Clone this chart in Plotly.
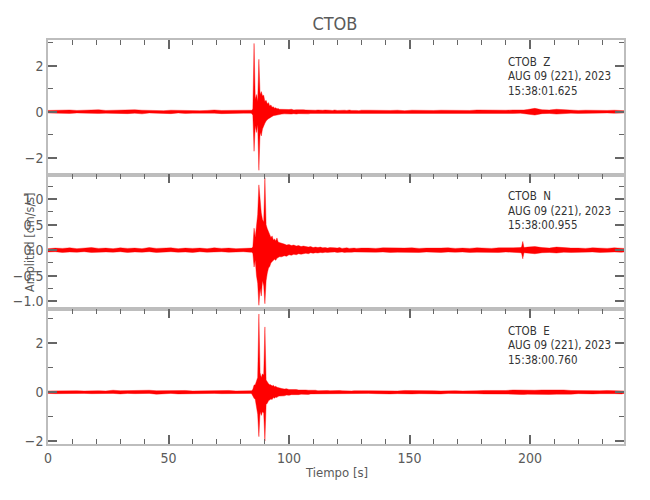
import plotly.graph_objects as go
from plotly.subplots import make_subplots

# envelope knots (s): coarse in the noise, fine around the event
TIME_EVENT = [84.5, 85.0, 85.5, 86.0, 86.5, 87.0, 87.5, 88.0,
              88.5, 89.0, 89.5, 90.0, 90.5, 91.0, 91.5, 92.0,
              92.5, 93.0, 93.5, 94.0, 94.5, 95.0, 95.5, 96.0]
TIME = (list(range(0, 85, 3)) + TIME_EVENT + list(range(97, 131))
        + list(range(133, 197, 3)) + [196.5, 197.0, 197.5]
        + list(range(199, 239, 3)) + [239])

Z_UP = [
    0.06, 0.07, 0.05, 0.08, 0.06, 0.07, 0.05, 0.09, 0.06, 0.07,
    0.08, 0.06, 0.09, 0.07, 0.06, 0.08, 0.05, 0.07, 0.06, 0.08,
    0.07, 0.05, 0.06, 0.08, 0.06, 0.07, 0.05, 0.06, 0.07,
    0.07, 0.12, 2.98, 0.55, 0.75, 0.45, 2.29, 0.75,
    0.88, 0.7, 0.72, 0.45, 0.5, 0.35, 0.4, 0.25,
    0.3, 0.2, 0.22, 0.16, 0.18, 0.13, 0.14, 0.11,
    0.1, 0.12, 0.09, 0.1, 0.11, 0.08, 0.09, 0.1, 0.08, 0.09,
    0.08, 0.07, 0.09, 0.08, 0.07, 0.08, 0.06, 0.07, 0.08, 0.06,
    0.07, 0.06, 0.08, 0.06, 0.07, 0.05, 0.07, 0.06, 0.08, 0.06,
    0.07, 0.06, 0.05, 0.07,
    0.07, 0.06, 0.08, 0.06, 0.07, 0.05, 0.07, 0.06, 0.08, 0.06,
    0.07, 0.06, 0.08, 0.07, 0.06, 0.08, 0.07, 0.06, 0.08, 0.07,
    0.08, 0.07, 0.08, 0.07, 0.08, 0.1, 0.15, 0.09, 0.08, 0.11,
    0.09, 0.07, 0.06, 0.07, 0.06, 0.07, 0.06, 0.07, 0.06, 0.05,
]
Z_LO = [
    -0.05, -0.07, -0.06, -0.07, -0.05, -0.08, -0.06, -0.07, -0.06, -0.05,
    -0.07, -0.08, -0.06, -0.09, -0.05, -0.07, -0.06, -0.08, -0.05, -0.07,
    -0.06, -0.07, -0.05, -0.06, -0.08, -0.05, -0.07, -0.06, -0.06,
    -0.07, -0.15, -1.72, -0.6, -0.9, -0.55, -2.55, -0.9,
    -1.05, -0.75, -0.6, -0.5, -0.4, -0.35, -0.3, -0.28,
    -0.22, -0.2, -0.17, -0.16, -0.14, -0.13, -0.12, -0.11,
    -0.1, -0.09, -0.11, -0.09, -0.1, -0.08, -0.1, -0.08, -0.09, -0.07,
    -0.08, -0.09, -0.07, -0.08, -0.06, -0.08, -0.07, -0.06, -0.07, -0.08,
    -0.06, -0.07, -0.06, -0.08, -0.05, -0.07, -0.06, -0.07, -0.06, -0.05,
    -0.07, -0.06, -0.07, -0.05,
    -0.06, -0.07, -0.05, -0.07, -0.06, -0.08, -0.06, -0.07, -0.05, -0.07,
    -0.06, -0.08, -0.06, -0.07, -0.05, -0.07, -0.06, -0.08, -0.06, -0.07,
    -0.07, -0.06, -0.07, -0.08, -0.07, -0.09, -0.14, -0.08, -0.07, -0.1,
    -0.08, -0.06, -0.07, -0.06, -0.07, -0.06, -0.05, -0.06, -0.06, -0.05,
]

N_UP = [
    0.03, 0.04, 0.035, 0.045, 0.03, 0.04, 0.05, 0.035, 0.04, 0.03,
    0.045, 0.035, 0.04, 0.03, 0.05, 0.035, 0.04, 0.045, 0.03, 0.04,
    0.035, 0.04, 0.03, 0.045, 0.035, 0.04, 0.03, 0.035, 0.04,
    0.04, 0.06, 0.43, 0.25, 0.45, 0.7, 1.28, 0.9,
    0.73, 0.6, 0.55, 1.42, 0.5, 0.42, 0.35, 0.3,
    0.25, 0.28, 0.2, 0.22, 0.18, 0.24, 0.16, 0.15,
    0.14, 0.12, 0.1, 0.11, 0.09, 0.1, 0.08, 0.09, 0.07, 0.08,
    0.07, 0.06, 0.07, 0.05, 0.06, 0.05, 0.06, 0.045, 0.05, 0.04,
    0.05, 0.04, 0.045, 0.04, 0.05, 0.035, 0.04, 0.045, 0.035, 0.04,
    0.04, 0.035, 0.045, 0.04,
    0.04, 0.035, 0.045, 0.04, 0.035, 0.04, 0.045, 0.035, 0.04, 0.035,
    0.04, 0.045, 0.035, 0.04, 0.035, 0.045, 0.04, 0.035, 0.045, 0.04,
    0.045, 0.05, 0.06, 0.17, 0.05, 0.06, 0.07, 0.05, 0.04, 0.06,
    0.045, 0.04, 0.04, 0.035, 0.045, 0.04, 0.035, 0.045, 0.04, 0.035,
]
N_LO = [
    -0.035, -0.03, -0.045, -0.035, -0.04, -0.03, -0.045, -0.04, -0.035, -0.04,
    -0.03, -0.045, -0.035, -0.04, -0.03, -0.045, -0.035, -0.03, -0.04, -0.035,
    -0.045, -0.03, -0.04, -0.035, -0.03, -0.04, -0.035, -0.03, -0.04,
    -0.04, -0.06, -0.33, -0.2, -0.5, -0.65, -1.08, -0.75,
    -0.9, -0.6, -0.7, -1.05, -0.6, -0.45, -0.35, -0.32,
    -0.25, -0.22, -0.2, -0.18, -0.2, -0.16, -0.15, -0.13,
    -0.13, -0.11, -0.12, -0.09, -0.1, -0.08, -0.09, -0.07, -0.08, -0.07,
    -0.06, -0.07, -0.05, -0.06, -0.05, -0.055, -0.045, -0.05, -0.04, -0.045,
    -0.04, -0.045, -0.035, -0.045, -0.04, -0.035, -0.045, -0.04, -0.035, -0.04,
    -0.035, -0.04, -0.035, -0.04,
    -0.035, -0.04, -0.035, -0.045, -0.04, -0.035, -0.04, -0.045, -0.035, -0.04,
    -0.045, -0.035, -0.04, -0.035, -0.045, -0.04, -0.035, -0.04, -0.045, -0.035,
    -0.04, -0.05, -0.06, -0.17, -0.05, -0.06, -0.07, -0.05, -0.045, -0.055,
    -0.04, -0.045, -0.035, -0.04, -0.035, -0.045, -0.04, -0.035, -0.04, -0.035,
]

E_UP = [
    0.05, 0.06, 0.05, 0.07, 0.06, 0.05, 0.07, 0.06, 0.05, 0.08,
    0.06, 0.07, 0.05, 0.06, 0.08, 0.06, 0.07, 0.05, 0.06, 0.07,
    0.05, 0.06, 0.07, 0.05, 0.06, 0.07, 0.05, 0.06, 0.06,
    0.06, 0.12, 0.29, 0.3, 0.5, 0.6, 3.2, 0.8,
    0.6, 0.75, 0.7, 2.67, 0.5, 0.4, 0.35, 0.3,
    0.3, 0.25, 0.28, 0.22, 0.24, 0.2, 0.18, 0.16,
    0.15, 0.13, 0.14, 0.11, 0.12, 0.1, 0.11, 0.09, 0.1, 0.08,
    0.09, 0.08, 0.09, 0.07, 0.08, 0.06, 0.07, 0.08, 0.06, 0.07,
    0.06, 0.07, 0.05, 0.06, 0.07, 0.06, 0.05, 0.07, 0.06, 0.05,
    0.06, 0.07, 0.05, 0.06,
    0.06, 0.05, 0.07, 0.06, 0.05, 0.07, 0.06, 0.05, 0.07, 0.06,
    0.05, 0.07, 0.06, 0.05, 0.07, 0.06, 0.07, 0.06, 0.08, 0.07,
    0.09, 0.08, 0.1, 0.08, 0.09, 0.1, 0.08, 0.09, 0.1, 0.08,
    0.09, 0.07, 0.06, 0.07, 0.05, 0.06, 0.07, 0.05, 0.06, 0.05,
]
E_LO = [
    -0.05, -0.06, -0.07, -0.05, -0.06, -0.05, -0.06, -0.07, -0.06, -0.05,
    -0.07, -0.05, -0.06, -0.07, -0.05, -0.08, -0.06, -0.05, -0.07, -0.06,
    -0.05, -0.07, -0.06, -0.05, -0.06, -0.05, -0.07, -0.06, -0.05,
    -0.06, -0.15, -0.25, -0.3, -0.6, -0.9, -1.82, -0.8,
    -0.95, -0.8, -0.85, -2.0, -0.5, -0.45, -0.35, -0.3,
    -0.28, -0.3, -0.22, -0.25, -0.2, -0.22, -0.17, -0.16,
    -0.14, -0.15, -0.12, -0.13, -0.1, -0.11, -0.09, -0.1, -0.08, -0.09,
    -0.08, -0.09, -0.07, -0.08, -0.06, -0.08, -0.07, -0.06, -0.07, -0.06,
    -0.07, -0.05, -0.06, -0.07, -0.05, -0.06, -0.07, -0.05, -0.06, -0.06,
    -0.05, -0.06, -0.07, -0.05,
    -0.05, -0.06, -0.05, -0.07, -0.06, -0.05, -0.07, -0.06, -0.05, -0.06,
    -0.07, -0.05, -0.06, -0.07, -0.05, -0.06, -0.07, -0.08, -0.06, -0.07,
    -0.08, -0.09, -0.08, -0.1, -0.09, -0.08, -0.1, -0.08, -0.09, -0.08,
    -0.07, -0.08, -0.06, -0.05, -0.07, -0.06, -0.05, -0.06, -0.07, -0.05,
]

CHANNELS = ["Z", "N", "E"]
START_TIMES = ["15:38:01.625", "15:38:00.955", "15:38:00.760"]
Y_RANGES = [[-2.74, 3.13], [-1.16, 1.48], [-2.12, 3.39]]
Y_DTICK = [2, 0.5, 2]
Y_MINOR = [1, 0.25, 1]
Y_FORMAT = ["d", ".1f", "d"]

FONT = "DejaVu Sans Condensed, Liberation Sans Narrow, sans-serif"
RED = "#ff0000"
AXIS_GRAY = "#bdbdbd"
TICK_GRAY = "#666666"
TEXT_GRAY = "#5a5a5a"

fig = make_subplots(rows=3, cols=1, shared_xaxes=True, vertical_spacing=0)

envelopes = [(Z_UP, Z_LO), (N_UP, N_LO), (E_UP, E_LO)]
for row, (up, lo) in enumerate(envelopes, start=1):
    assert len(up) == len(TIME) and len(lo) == len(TIME)
    fig.add_trace(
        go.Scatter(
            x=TIME + TIME[::-1],
            y=up + lo[::-1],
            mode="lines",
            fill="toself",
            fillcolor=RED,
            line={"color": RED, "width": 0.4},
            hoverinfo="skip",
            showlegend=False,
        ),
        row=row,
        col=1,
    )

    fig.update_yaxes(
        range=Y_RANGES[row - 1],
        dtick=Y_DTICK[row - 1],
        tickformat=Y_FORMAT[row - 1],
        minor={"dtick": Y_MINOR[row - 1], "ticks": "inside", "ticklen": 5,
               "tickcolor": TICK_GRAY, "tickwidth": 1},
        row=row,
        col=1,
    )

    # upper panels carry their ticks on the top edge only, the last one on both
    if row < 3:
        fig.update_xaxes(side="top", mirror=True, showticklabels=False, row=row, col=1)
    else:
        fig.update_xaxes(side="bottom", mirror="ticks", row=row, col=1)

    # station / channel / start time labels
    lines = [f"CTOB\u00a0\u00a0{CHANNELS[row - 1]}", "AUG 09 (221), 2023", START_TIMES[row - 1]]
    yref = "y domain" if row == 1 else f"y{row} domain"
    for i, text in enumerate(lines):
        fig.add_annotation(
            x=0.795, xref="paper", xanchor="left",
            y=1, yref=yref, yanchor="middle", yshift=-21.5 - 14.5 * i,
            text=text, showarrow=False,
            font={"family": FONT, "size": 11.5, "color": "#333"},
        )

fig.update_xaxes(
    range=[0, 239],
    dtick=50,
    ticks="inside",
    ticklen=9,
    tickwidth=1.5,
    tickcolor=TICK_GRAY,
    minor={"dtick": 10, "ticks": "inside", "ticklen": 5, "tickcolor": TICK_GRAY, "tickwidth": 1},
    showline=True,
    linewidth=1.5,
    linecolor=AXIS_GRAY,
    showgrid=False,
    zeroline=False,
    automargin=False,
)
fig.update_yaxes(
    ticks="inside",
    ticklen=9,
    tickwidth=1.5,
    tickcolor=TICK_GRAY,
    showline=True,
    linewidth=1.5,
    linecolor=AXIS_GRAY,
    mirror="ticks",
    showgrid=False,
    zeroline=False,
    automargin=False,
)

fig.add_annotation(
    x=-0.033, xref="paper", xanchor="center",
    y=0.5, yref="y2 domain", yanchor="middle",
    text="Amplitud [cm/s/s]", textangle=-90, showarrow=False,
    font={"family": FONT, "size": 12.5, "color": TEXT_GRAY},
)
fig.add_annotation(
    x=0.5, xref="paper", xanchor="center",
    y=0, yref="paper", yanchor="middle", yshift=-28,
    text="Tiempo [s]", showarrow=False,
    font={"family": FONT, "size": 13, "color": TEXT_GRAY},
)

# the page body adds an 8 px offset, so the margins are shifted to match
fig.update_layout(
    width=650,
    height=500,
    title={"text": "CTOB", "x": 0.503, "xanchor": "center", "y": 0.968, "yanchor": "middle",
           "font": {"family": FONT, "size": 18, "color": TEXT_GRAY}},
    font={"family": FONT, "size": 14, "color": TEXT_GRAY},
    margin={"l": 40, "r": 34, "t": 32, "b": 64},
    plot_bgcolor="white",
    paper_bgcolor="white",
    showlegend=False,
)

fig.write_html("out.html")
